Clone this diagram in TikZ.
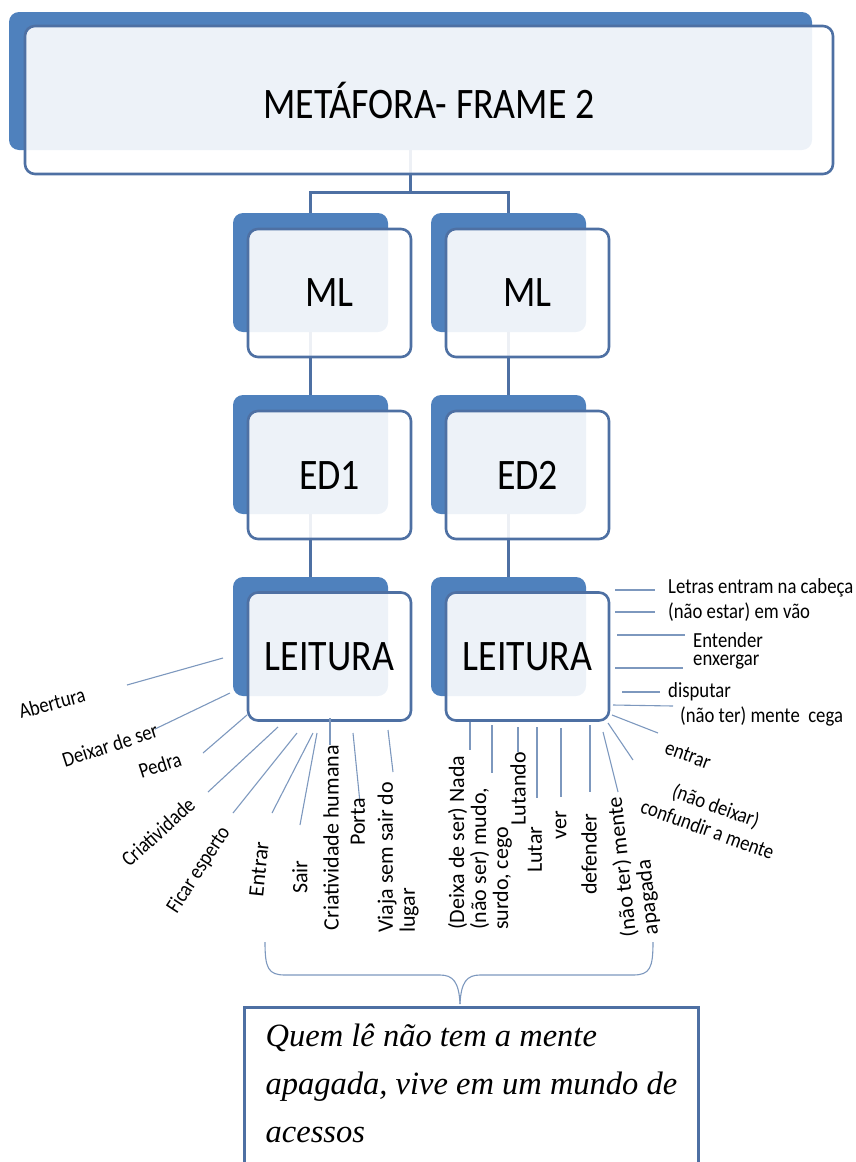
\documentclass[tikz,border=0pt]{standalone}
\usepackage{fontspec}
\setmainfont{Carlito}
\newfontfamily\narrowfont[FakeStretch=0.87]{Carlito}
\newfontfamily\quotefont{Liberation Serif}
\definecolor{boxblue}{RGB}{79,129,189}
\definecolor{edgeblue}{RGB}{78,112,163}
\definecolor{raygray}{RGB}{125,152,190}
\tikzset{
	backbox/.style={
		fill = boxblue,
		rounded corners = 10pt,
		minimum width = 155pt,
		minimum height = 119pt,
		inner sep = 0pt
	},
	frontbox/.style={
		draw = edgeblue,
		line width = 2.6pt,
		fill = white,
		fill opacity = 0.9,
		text opacity = 1,
		rounded corners = 10pt,
		minimum width = 163pt,
		minimum height = 128pt,
		font = \narrowfont\fontsize{43.5}{48}\selectfont
	},
	quotebox/.style={
		draw = edgeblue,
		line width = 3pt,
		fill = white,
		inner xsep = 15pt,
		inner ysep = 16pt,
		minimum width = 454pt,
		align = left,
		font = \quotefont\itshape\fontsize{32.5}{48}\selectfont
	},
	link/.style={draw = edgeblue, line width = 3pt},
	ray/.style={draw = raygray, line width = 1.1pt},
	lbl/.style={inner sep = 0pt, font = \narrowfont\fontsize{21.5}{25}\selectfont},
	vlbl/.style={inner sep = 0pt, rotate = 90, align = left, font = \fontsize{22}{22}\selectfont},
}

\begin{document}
\begin{tikzpicture}[x=1pt, y=-1pt]
    \useasboundingbox (0,0) rectangle (855,1162);
    % back plates
    \node[backbox, minimum width=803pt, minimum height=138pt] (topbk) at (410.5,81) {};
    \foreach \c/\x in {1/310.5, 2/508.5}{
      \node[backbox] (ml\c bk) at (\x,272.5) {};
      \node[backbox] (ed\c bk) at (\x,454.5) {};
      \node[backbox] (le\c bk) at (\x,636.5) {};
    }
    % tree links
    \coordinate (fork) at (410.5,192);
    \draw[link] (topbk.south) -- (fork);
    \draw[link] (fork) -| (ml1bk.north);
    \draw[link] (fork) -| (ml2bk.north);
    \foreach \c in {1,2}{
      \draw[link] (ml\c bk.south) -- (ed\c bk.north);
      \draw[link] (ed\c bk.south) -- (le\c bk.north);
    }
    % front boxes
    \node[frontbox, minimum width=808pt, minimum height=148pt] (top) at (429,100) {METÁFORA- FRAME 2};
    \foreach \c/\x/\b in {1/329.5/ED1, 2/527.5/ED2}{
      \node[frontbox] (ml\c) at (\x,293) {ML};
      \node[frontbox] (ed\c) at (\x,475) {\b};
      \node[frontbox] (le\c) at (\x,656.5) {LEITURA};
    }
    % rays
    \foreach \n/\ax/\ay/\bx/\by in {1/223/658/127/685, 2/230/693/155/729, 3/247/715/203/753,
        4/278/727/208/792, 5/297/733/233/813, 6/313/733/272/813, 7/317/733/300/825,
        8/330/718/330/745, 9/353/733/360/803, 10/388/730/393/772,
        11/470/722/470/750, 12/492/725/492/773, 13/518/727/518/752, 14/537/727/537/798,
        15/561/728/561/797, 16/590/725/590/792, 17/603/732/618/792,
        18/615/590/655/590, 19/615/612/655/612, 20/617/635/685/635, 21/615/668/683/668,
        22/622/692/660/692, 23/613/705/673/706, 24/612/715/658/733, 25/608/723/633/760}{
      \coordinate (ra\n) at (\ax,\ay);
      \coordinate (rb\n) at (\bx,\by);
      \draw[ray] (ra\n) -- (rb\n);
    }
    % left labels
    \node[lbl, rotate=15] (abertura) at (52,703) {Abertura};
    \node[lbl, rotate=18] (deixar) at (110,745) {Deixar de ser};
    \node[lbl, rotate=18] (pedra) at (160,765) {Pedra};
    \node[lbl, rotate=42] (criat) at (158,832) {Criatividade};
    \node[lbl, rotate=57] (ficar) at (199,870) {Ficar esperto};
    \node[vlbl, rotate=-6] (entrarl) at (259,869) {Entrar};
    \node[vlbl] (sair) at (300,877) {Sair};
    \node[vlbl, anchor=east] (criath) at (331,745) {Criatividade humana};
    \node[vlbl] (porta) at (358,822) {Porta};
    \node[vlbl, anchor=west] (viaja) at (398,933) {Viaja sem sair do\\lugar};
    % right labels, below
    \node[vlbl, anchor=west] (nada) at (480,930) {(Deixa de ser) Nada\\(não ser) mudo,\\surdo, cego};
    \node[vlbl, anchor=east] (lutando) at (518,752) {Lutando};
    \node[vlbl, anchor=west] (lutar) at (535,873) {Lutar};
    \node[vlbl] (ver) at (561,825) {ver};
    \node[vlbl, anchor=west] (defender) at (589,895) {defender};
    \node[vlbl, anchor=west, rotate=6] (apagada) at (641,936) {(não ter) mente\\apagada};
    % right labels, side
    \node[lbl, anchor=west] (letras) at (668,588) {Letras entram na cabeça};
    \node[lbl, anchor=west] (emvao) at (668,612) {(não estar) em vão};
    \node[lbl, anchor=west] (entender) at (693,640) {Entender};
    \node[lbl, anchor=west] (enxergar) at (693,662) {enxergar};
    \node[lbl, anchor=west] (disputar) at (668,692) {disputar};
    \node[lbl, anchor=west] (cega) at (680,716) {(não ter) mente\ \ cega};
    \node[lbl, rotate=-20] (entrarr) at (688,755) {entrar};
    \node[lbl, rotate=-20, align=center] (confundir) at (712,817) {(não deixar)\\confundir a mente};
    % brace and quote
    \coordinate (bl) at (265,942);
    \coordinate (br) at (653,942);
    \coordinate (tip) at (460,1004);
    \draw[ray] (bl) .. controls (265,968) and (268,975) .. (285,975) -- (440,975) .. controls (453,975) and (459,982) .. (tip);
    \draw[ray] (br) .. controls (653,968) and (650,975) .. (633,975) -- (480,975) .. controls (467,975) and (461,982) .. (tip);
    \node[quotebox, anchor=north west, text depth=60pt] (quote) at (243,1006) {Quem lê não tem a mente\\apagada, vive em um mundo de\\acessos};
\end{tikzpicture}
\end{document}
